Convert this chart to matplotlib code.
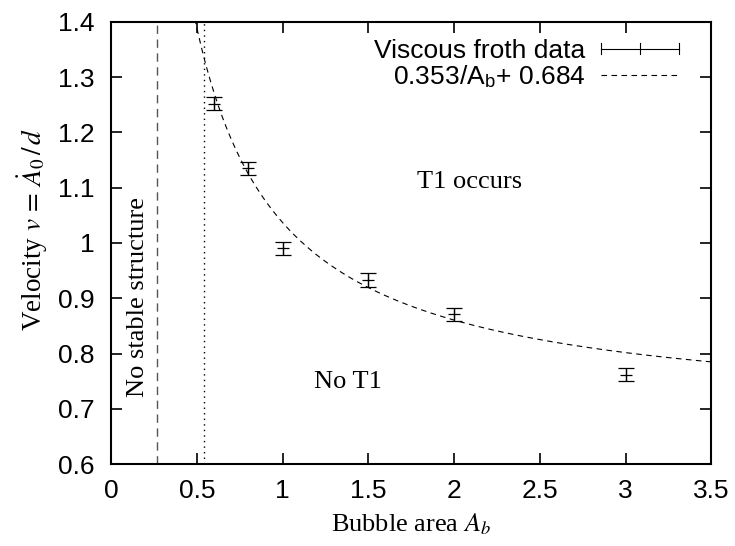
import numpy as np
import matplotlib
matplotlib.use("Agg")
import matplotlib.pyplot as plt
from matplotlib.lines import Line2D
from matplotlib.legend_handler import HandlerBase

plt.rcParams['font.family'] = 'Liberation Sans'
plt.rcParams['mathtext.fontset'] = 'stix'

# data
area = [0.6, 0.8, 1.0, 1.5, 2.0, 3.0]
velocity = [1.252, 1.135, 0.990, 0.933, 0.871, 0.762]
vel_err = [0.012, 0.012, 0.012, 0.012, 0.012, 0.012]
fit_a = 0.353
fit_c = 0.684
x_unstable = 0.27
x_limit = 0.54
xticks = [0, 0.5, 1, 1.5, 2, 2.5, 3, 3.5]
xticklabels = ['0', '0.5', '1', '1.5', '2', '2.5', '3', '3.5']
yticks = [0.6, 0.7, 0.8, 0.9, 1.0, 1.1, 1.2, 1.3, 1.4]
yticklabels = ['0.6', '0.7', '0.8', '0.9', '1', '1.1', '1.2', '1.3', '1.4']


class HErrHandler(HandlerBase):
    # gnuplot style key: horizontal bar with end caps and a tick in the middle
    def create_artists(self, legend, orig_handle, xdescent, ydescent,
                       width, height, fontsize, trans):
        y = height / 2 - ydescent
        x0 = -xdescent
        x1 = width - xdescent
        h = 4
        arts = [Line2D([x0, x1], [y, y]),
                Line2D([x0, x0], [y - h, y + h]),
                Line2D([x1, x1], [y - h, y + h]),
                Line2D([(x0 + x1) / 2] * 2, [y - h, y + h])]
        for a in arts:
            a.set_color('black')
            a.set_linewidth(0.8)
            a.set_transform(trans)
        return arts


fig = plt.figure(figsize=(7.35, 5.46), dpi=100)
ax = fig.add_axes([0.151, 0.150, 0.817, 0.810])

ax.errorbar(area, velocity, yerr=vel_err, fmt='+', color='black', ms=8,
            mew=0.9, elinewidth=0.9, capsize=5.5, capthick=0.9)

xs = np.linspace(0.3, 3.5, 400)
ax.plot(xs, fit_a / xs + fit_c, color='black', lw=0.8, dashes=(5, 4))

ax.axvline(x_unstable, color='#555555', lw=1.0, dashes=(6, 4))
ax.axvline(x_limit, color='black', lw=1.0, dashes=(1, 3))

serif = 'Liberation Serif'
ax.text(2.09, 1.11, 'T1 occurs', family=serif, fontsize=19,
        ha='center', va='center')
ax.text(1.38, 0.748, 'No T1', family=serif, fontsize=19,
        ha='center', va='center')
ax.text(0.16, 0.903, 'No stable structure', family=serif,
        fontsize=19, ha='center', va='center', rotation=90)

ax.set_xlim(0, 3.5)
ax.set_ylim(0.6, 1.4)
ax.set_xticks(xticks)
ax.set_xticklabels(xticklabels)
ax.set_yticks(yticks)
ax.set_yticklabels(yticklabels)
ax.tick_params(direction='in', length=8, width=1.2, labelsize=19,
               top=True, right=True)
ax.tick_params(axis='x', pad=11)
ax.tick_params(axis='y', pad=12)
for s in ax.spines.values():
    s.set_linewidth(1.5)

ax.set_xlabel('Bubble area $A_b$', family=serif, fontsize=19, labelpad=6)
ax.set_ylabel(r'Velocity $v\,=\,\dot{A}_0\,/\,d$', family=serif,
              fontsize=19.5)
ax.yaxis.set_label_coords(-0.102, 0.53)

h1 = Line2D([], [], color='black')
h2 = Line2D([], [], color='black', lw=0.8, dashes=(5, 4))
ax.legend([h1, h2], ['Viscous froth data', r'0.353/A$_\mathregular{b}$+ 0.684'],
          handler_map={h1: HErrHandler()}, loc='upper right',
          bbox_to_anchor=(0.975, 1.0), frameon=False, fontsize=19,
          markerfirst=False, handlelength=2.95, handletextpad=0.6,
          labelspacing=0.0, borderaxespad=0.25)

fig.savefig('out.png', dpi=100)
